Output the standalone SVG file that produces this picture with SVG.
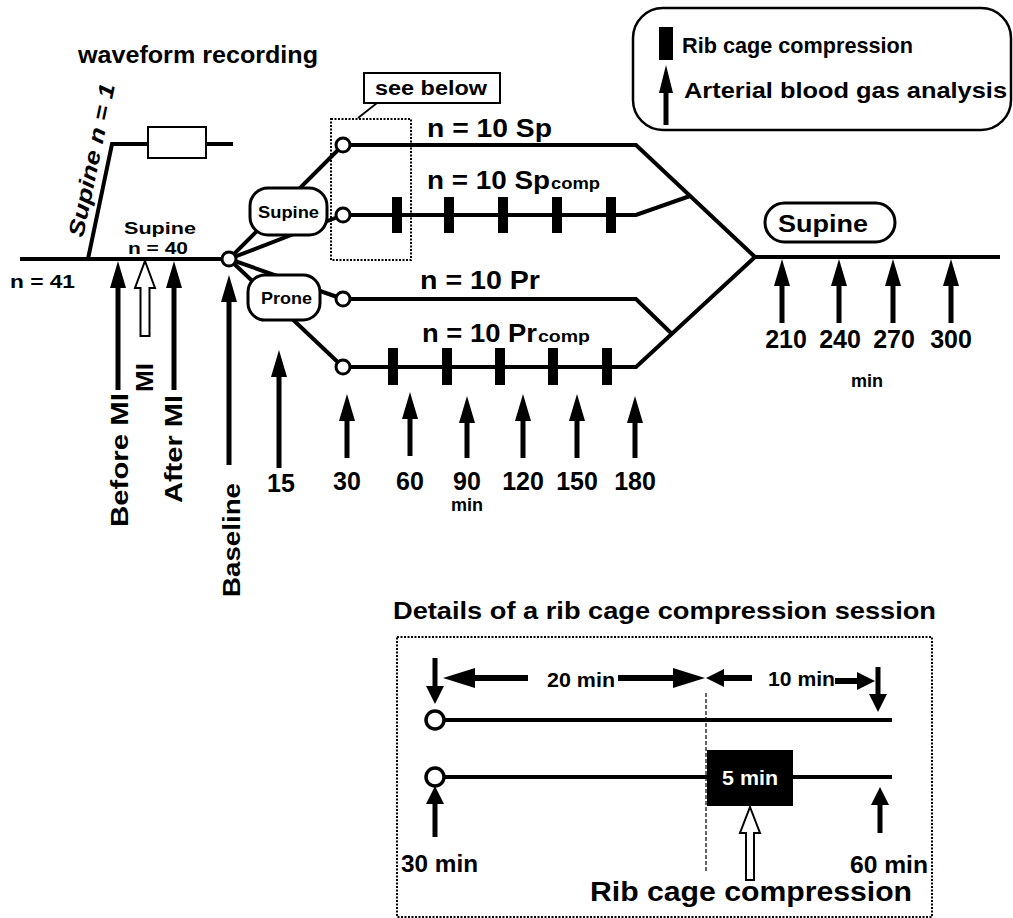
<svg xmlns="http://www.w3.org/2000/svg" width="1013" height="918" viewBox="0 0 1013 918">
<defs>
<style>
.t{font-family:"Liberation Sans",Arial,Helvetica,sans-serif;font-weight:bold;fill:#000}
.it{font-style:italic}
.ln{stroke:#000;stroke-width:4;fill:none}
.ar{stroke:#000;stroke-width:5;fill:none}
.ar2{stroke:#000;stroke-width:6;fill:none}
.node{fill:#fff;stroke:#000;stroke-width:3}
.bar{fill:#000}
.dot{fill:none;stroke:#000;stroke-width:2;stroke-dasharray:2 1.5}
.thin{stroke:#000;stroke-width:1.2;stroke-dasharray:4 2;fill:none}
</style>
<marker id="ah" viewBox="0 -8 27 16" markerWidth="27" markerHeight="16" refX="0" refY="0" orient="auto" markerUnits="userSpaceOnUse"><path d="M0,-8 L27,0 L0,8 z" fill="#000"/></marker>
<marker id="ahn" viewBox="0 -7 28 14" markerWidth="28" markerHeight="14" refX="0" refY="0" orient="auto" markerUnits="userSpaceOnUse"><path d="M0,-7 L28,0 L0,7 z" fill="#000"/></marker>
<marker id="ahs" viewBox="0 -9 18 18" markerWidth="18" markerHeight="18" refX="0" refY="0" orient="auto" markerUnits="userSpaceOnUse"><path d="M0,-9 L18,0 L0,9 z" fill="#000"/></marker>
<marker id="ahw" viewBox="0 -10 32 20" markerWidth="32" markerHeight="20" refX="0" refY="0" orient="auto" markerUnits="userSpaceOnUse"><path d="M0,-10 L32,0 L0,10 z" fill="#000"/></marker>
</defs>
<rect width="1013" height="918" fill="#fff"/>

<!-- titles -->
<text class="t" x="78" y="63" font-size="23" textLength="240" lengthAdjust="spacingAndGlyphs">waveform recording</text>

<!-- connectors -->
<g id="connectors">
  <line class="ln" x1="20" y1="259" x2="229" y2="259"/>
  <polyline class="ln" points="88,259 112,144 233,144"/>
  <line class="ln" x1="229" y1="259" x2="343" y2="145"/>
  <line class="ln" x1="229" y1="259" x2="343" y2="215"/>
  <line class="ln" x1="229" y1="259" x2="343" y2="299"/>
  <line class="ln" x1="229" y1="259" x2="343" y2="367"/>
  <polyline class="ln" points="343,145 636,145 755,257"/>
  <polyline class="ln" points="343,215 636,215 690,196"/>
  <polyline class="ln" points="343,299 636,299 672,334"/>
  <polyline class="ln" points="343,367 636,367 755,257"/>
  <line class="ln" x1="755" y1="257" x2="1000" y2="257"/>
  <!-- sampling arrows -->
  <line class="ar" x1="118" y1="390" x2="118" y2="288" marker-end="url(#ah)"/>
  <line class="ar" x1="174" y1="390" x2="174" y2="288" marker-end="url(#ah)"/>
  <line class="ar" x1="229" y1="465" x2="229" y2="302" marker-end="url(#ah)"/>
  <line class="ar" x1="279" y1="468" x2="279" y2="377" marker-end="url(#ah)"/>
  <line class="ar" x1="347" y1="458" x2="347" y2="421" marker-end="url(#ah)"/>
  <line class="ar" x1="410" y1="456" x2="410" y2="419" marker-end="url(#ah)"/>
  <line class="ar" x1="467" y1="458" x2="467" y2="423" marker-end="url(#ah)"/>
  <line class="ar" x1="523" y1="458" x2="523" y2="421" marker-end="url(#ah)"/>
  <line class="ar" x1="577" y1="458" x2="577" y2="421" marker-end="url(#ah)"/>
  <line class="ar" x1="635" y1="458" x2="635" y2="423" marker-end="url(#ah)"/>
  <line class="ar" x1="782" y1="323" x2="782" y2="286" marker-end="url(#ah)"/>
  <line class="ar" x1="839" y1="323" x2="839" y2="286" marker-end="url(#ah)"/>
  <line class="ar" x1="893" y1="323" x2="893" y2="286" marker-end="url(#ah)"/>
  <line class="ar" x1="951" y1="323" x2="951" y2="286" marker-end="url(#ah)"/>
  <polygon points="145,261 155,288 149.5,288 149.5,336 140.5,336 140.5,288 135,288" fill="#fff" stroke="#000" stroke-width="2"/>
</g>

<!-- compression bars -->
<g id="bars">
  <rect class="bar" x="392" y="197" width="10" height="36"/>
  <rect class="bar" x="444" y="197" width="10" height="36"/>
  <rect class="bar" x="498" y="197" width="10" height="36"/>
  <rect class="bar" x="552" y="197" width="10" height="36"/>
  <rect class="bar" x="606" y="197" width="10" height="36"/>
  <rect class="bar" x="388" y="348" width="10" height="37"/>
  <rect class="bar" x="442" y="348" width="10" height="37"/>
  <rect class="bar" x="495" y="348" width="10" height="37"/>
  <rect class="bar" x="548" y="348" width="10" height="37"/>
  <rect class="bar" x="602" y="348" width="10" height="37"/>
</g>

<!-- nodes -->
<g id="waveform-box"><rect x="148" y="127" width="58" height="31" fill="#fff" stroke="#000" stroke-width="2"/></g>
<g id="origin"><circle class="node" cx="229" cy="259" r="7"/></g>
<g id="supine-box"><rect x="250" y="188" width="77" height="47" rx="18" class="node"/><text class="t" x="288.5" y="218" font-size="17" text-anchor="middle" textLength="61" lengthAdjust="spacingAndGlyphs">Supine</text></g>
<g id="prone-box"><rect x="248" y="275" width="72" height="45" rx="17" class="node"/><text class="t" x="286.5" y="304" font-size="17" text-anchor="middle" textLength="51" lengthAdjust="spacingAndGlyphs">Prone</text></g>
<g id="sp-start"><circle class="node" cx="343" cy="145" r="7"/></g>
<g id="spcomp-start"><circle class="node" cx="343" cy="215" r="7"/></g>
<g id="pr-start"><circle class="node" cx="343" cy="299" r="7"/></g>
<g id="prcomp-start"><circle class="node" cx="343" cy="367" r="7"/></g>
<g id="supine-pill"><rect x="765" y="203" width="130" height="39" rx="19.5" class="node"/><text class="t" x="778" y="232" font-size="24" textLength="90" lengthAdjust="spacingAndGlyphs">Supine</text></g>
<g id="see-below">
  <rect class="dot" x="331" y="119" width="80" height="141"/>
  <rect x="364" y="73" width="136" height="30" fill="#fff" stroke="#000" stroke-width="2"/>
  <line x1="377" y1="103" x2="358" y2="118" stroke="#000" stroke-width="1.8"/>
  <text class="t" x="375" y="95" font-size="20" textLength="112" lengthAdjust="spacingAndGlyphs">see below</text>
</g>

<!-- legend -->
<g id="legend">
  <rect x="633" y="8" width="378" height="122" rx="30" fill="#fff" stroke="#000" stroke-width="2.5"/>
  <rect class="bar" x="659" y="27" width="14" height="33"/>
  <line class="ar" x1="666" y1="125" x2="666" y2="93" marker-end="url(#ahn)"/>
  <text class="t" x="682" y="53" font-size="22" textLength="231" lengthAdjust="spacingAndGlyphs">Rib cage compression</text>
  <text class="t" x="684" y="98" font-size="22" textLength="323" lengthAdjust="spacingAndGlyphs">Arterial blood gas analysis</text>
</g>

<!-- labels -->
<g id="labels">
  <text class="t it" font-size="22" transform="translate(83,238) rotate(-78.2)" textLength="156" lengthAdjust="spacingAndGlyphs">Supine n = 1</text>
  <text class="t" x="124" y="234" font-size="17" textLength="72" lengthAdjust="spacingAndGlyphs">Supine</text>
  <text class="t" x="128" y="254" font-size="17" textLength="60" lengthAdjust="spacingAndGlyphs">n = 40</text>
  <text class="t" x="10" y="288" font-size="18" textLength="65" lengthAdjust="spacingAndGlyphs">n = 41</text>
  <text class="t" font-size="24" transform="translate(128,527) rotate(-90)" textLength="134" lengthAdjust="spacingAndGlyphs">Before MI</text>
  <text class="t" font-size="24" transform="translate(153,392) rotate(-90)" textLength="29" lengthAdjust="spacingAndGlyphs">MI</text>
  <text class="t" font-size="24" transform="translate(182,503) rotate(-90)" textLength="108" lengthAdjust="spacingAndGlyphs">After MI</text>
  <text class="t" font-size="24" transform="translate(240,597) rotate(-90)" textLength="114" lengthAdjust="spacingAndGlyphs">Baseline</text>
  <text class="t" x="281" y="492" font-size="25" text-anchor="middle">15</text>
  <text class="t" x="347" y="490" font-size="25" text-anchor="middle">30</text>
  <text class="t" x="410" y="490" font-size="25" text-anchor="middle">60</text>
  <text class="t" x="467" y="490" font-size="25" text-anchor="middle">90</text>
  <text class="t" x="523" y="490" font-size="25" text-anchor="middle">120</text>
  <text class="t" x="577" y="490" font-size="25" text-anchor="middle">150</text>
  <text class="t" x="635" y="490" font-size="25" text-anchor="middle">180</text>
  <text class="t" x="467" y="511" font-size="18" text-anchor="middle">min</text>
  <text class="t" x="786" y="348" font-size="25" text-anchor="middle">210</text>
  <text class="t" x="840" y="348" font-size="25" text-anchor="middle">240</text>
  <text class="t" x="894" y="348" font-size="25" text-anchor="middle">270</text>
  <text class="t" x="951" y="348" font-size="25" text-anchor="middle">300</text>
  <text class="t" x="867" y="387" font-size="18" text-anchor="middle">min</text>
  <text class="t" x="427" y="137" font-size="25" textLength="125" lengthAdjust="spacingAndGlyphs">n = 10  Sp</text>
  <text class="t" x="427" y="189" font-size="25" textLength="123" lengthAdjust="spacingAndGlyphs">n = 10 Sp</text>
  <text class="t" x="551" y="189" font-size="17" textLength="49" lengthAdjust="spacingAndGlyphs">comp</text>
  <text class="t" x="420" y="289" font-size="25" textLength="120" lengthAdjust="spacingAndGlyphs">n = 10  Pr</text>
  <text class="t" x="422" y="342" font-size="25" textLength="115" lengthAdjust="spacingAndGlyphs">n = 10 Pr</text>
  <text class="t" x="538" y="342" font-size="17" textLength="52" lengthAdjust="spacingAndGlyphs">comp</text>
</g>

<!-- details -->
<g id="details">
  <text class="t" x="393" y="619" font-size="24" textLength="543" lengthAdjust="spacingAndGlyphs">Details of a rib cage compression session</text>
  <rect class="dot" x="397" y="637" width="535" height="280"/>
  <line class="thin" x1="706" y1="693" x2="706" y2="873"/>
  <line class="ln" x1="435" y1="720" x2="892" y2="720"/>
  <line class="ln" x1="435" y1="777" x2="892" y2="777"/>
  <circle cx="435" cy="720" r="9" fill="#fff" stroke="#000" stroke-width="3.5"/>
  <circle cx="435" cy="777" r="9" fill="#fff" stroke="#000" stroke-width="3.5"/>
  <rect class="bar" x="707" y="750" width="86" height="56"/>
  <text x="750" y="785" font-size="21" text-anchor="middle" class="t" style="fill:#fff" textLength="56" lengthAdjust="spacingAndGlyphs">5 min</text>
  <line class="ar" x1="435" y1="658" x2="435" y2="686" marker-end="url(#ahs)"/>
  <line class="ar" x1="878" y1="667" x2="878" y2="694" marker-end="url(#ahs)"/>
  <line class="ar" x1="435" y1="837" x2="435" y2="804" marker-end="url(#ahs)"/>
  <line class="ar" x1="880" y1="833" x2="880" y2="805" marker-end="url(#ahs)"/>
  <line class="ar2" x1="528" y1="678" x2="475" y2="678" marker-end="url(#ahw)"/>
  <line class="ar2" x1="618" y1="678" x2="673" y2="678" marker-end="url(#ahw)"/>
  <line class="ar2" x1="752" y1="678" x2="724" y2="678" marker-end="url(#ahs)"/>
  <line class="ar2" x1="835" y1="681" x2="857" y2="681" marker-end="url(#ahs)"/>
  <text class="t" x="547" y="687" font-size="21" textLength="68" lengthAdjust="spacingAndGlyphs">20 min</text>
  <text class="t" x="768" y="686" font-size="21" textLength="67" lengthAdjust="spacingAndGlyphs">10 min</text>
  <polygon points="750,807 760,833 754,833 754,880 746,880 746,833 740,833" fill="#fff" stroke="#000" stroke-width="2"/>
  <text class="t" x="401" y="872" font-size="24" textLength="77" lengthAdjust="spacingAndGlyphs">30 min</text>
  <text class="t" x="850" y="873" font-size="24" textLength="78" lengthAdjust="spacingAndGlyphs">60 min</text>
  <text class="t" x="590" y="901" font-size="27" textLength="322" lengthAdjust="spacingAndGlyphs">Rib cage compression</text>
</g>
</svg>
